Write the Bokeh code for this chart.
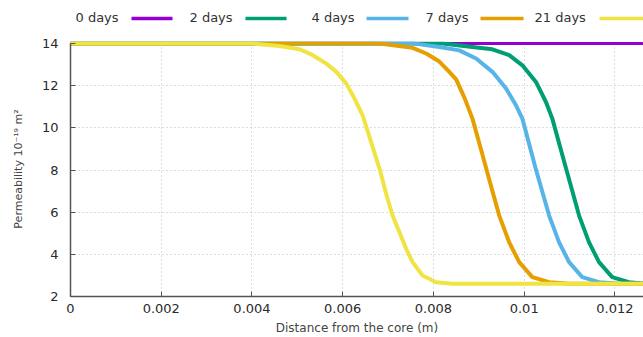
from bokeh.plotting import figure
from bokeh.models import Range1d, FixedTicker
from bokeh.layouts import column
from bokeh.core.properties import value
from bokeh.embed import file_html
from bokeh.resources import INLINE

# ---- data ----
series_names = ["0 days", "2 days", "4 days", "7 days", "21 days"]
series_colors = ["#9400d3", "#009e73", "#56b4e9", "#e69f00", "#f0e442"]

x_0d = [0.0, 0.0126]
y_0d = [14.0, 14.0]

x_2d = [0.0, 0.0082, 0.00886, 0.0093, 0.00967, 0.00996, 0.01026, 0.01048, 0.01062,
        0.01092, 0.01121, 0.01143, 0.01165, 0.01194, 0.01231, 0.0126]
y_2d = [14.0, 14.0, 13.84, 13.73, 13.45, 12.97, 12.18, 11.23, 10.44,
        8.1, 5.84, 4.57, 3.63, 2.92, 2.68, 2.62]

x_4d = [0.0, 0.0076, 0.00813, 0.00857, 0.00894, 0.0093, 0.0096, 0.00982, 0.00996,
        0.01025, 0.01055, 0.01077, 0.01099, 0.01128, 0.01165, 0.0121, 0.0126]
y_4d = [14.0, 14.0, 13.84, 13.68, 13.29, 12.66, 11.87, 11.07, 10.44,
        8.1, 5.84, 4.57, 3.63, 2.92, 2.68, 2.6, 2.6]

x_7d = [0.0, 0.0068, 0.00703, 0.00754, 0.00784, 0.00813, 0.00835, 0.0085, 0.00868,
        0.00886, 0.00905, 0.00918, 0.0093, 0.00945, 0.00967, 0.00989, 0.01018,
        0.01055, 0.0110, 0.0126]
y_7d = [14.0, 14.0, 13.95, 13.8, 13.53, 13.15, 12.66, 12.3, 11.45,
        10.44, 8.96, 7.94, 7.0, 5.84, 4.57, 3.63, 2.92,
        2.68, 2.6, 2.6]

x_21d = [0.0, 0.0040, 0.00461, 0.00505, 0.00534, 0.00564, 0.00586, 0.00608, 0.00626,
         0.00644, 0.00663, 0.00682, 0.00698, 0.0071, 0.00725, 0.0074, 0.00754,
         0.00776, 0.00806, 0.00842, 0.0090, 0.0126]
y_21d = [14.0, 14.0, 13.89, 13.73, 13.45, 13.05, 12.66, 12.10, 11.39,
         10.60, 9.3, 8.0, 6.7, 5.84, 5.05, 4.26, 3.63,
         3.0, 2.68, 2.6, 2.6, 2.6]

x_ticks = [0, 0.002, 0.004, 0.006, 0.008, 0.010, 0.012]
x_tick_labels = ["0", "0.002", "0.004", "0.006", "0.008", "0.01", "0.012"]
y_ticks = [2, 4, 6, 8, 10, 12, 14]

series_x = [x_0d, x_2d, x_4d, x_7d, x_21d]
series_y = [y_0d, y_2d, y_4d, y_7d, y_21d]

FONT = "DejaVu Sans"
W = 643
LEG_H = 30
FRAME_LEFT = 70
Y_PAD = 0.1          # small headroom so the lines at 14 are not clipped
PX_PER_UNIT = 21.08

# ---- legend strip (label first, then sample line), in pixel-like units ----
# (column layout aligns this strip's frame with the main plot's frame)
leg = figure(width=W, height=LEG_H, output_backend="svg", toolbar_location=None,
             x_range=Range1d(FRAME_LEFT, W), y_range=Range1d(LEG_H, 0),
             min_border_left=FRAME_LEFT, min_border_right=0,
             min_border_top=0, min_border_bottom=0)
leg.axis.visible = False
leg.grid.visible = False
leg.outline_line_color = None
leg.background_fill_color = "white"
leg.border_fill_color = "white"

legend_text_x = [75, 189, 311, 425, 534]
legend_line_x0 = [131, 245, 366, 480, 599]
legend_line_x1 = [172, 286, 408, 523, 643]
leg.text(x=legend_text_x, y=[17] * 5, text=series_names,
         text_font=value(FONT), text_font_size="13px", text_color="#333333",
         text_baseline="middle", text_align="left")
leg.segment(x0=legend_line_x0, y0=[18] * 5, x1=legend_line_x1, y1=[18] * 5,
            line_color=series_colors, line_width=3.5)

# ---- main plot ----
top_border = 43 - LEG_H - int(round(Y_PAD * PX_PER_UNIT))
p = figure(width=W, height=337 - LEG_H, output_backend="svg", toolbar_location=None,
           x_range=Range1d(0, 0.01263), y_range=Range1d(2, 14 + Y_PAD),
           min_border_left=FRAME_LEFT, min_border_right=0, min_border_top=top_border,
           min_border_bottom=41)
p.outline_line_color = None
p.background_fill_color = "white"
p.border_fill_color = "white"

for ax in (p.xaxis[0], p.yaxis[0]):
    ax.axis_line_color = "#555555"
    ax.axis_line_width = 1.5
    ax.major_tick_in = 5
    ax.major_tick_out = 0
    ax.minor_tick_line_color = None
    ax.major_tick_line_color = "#555555"
    ax.major_label_text_font = FONT
    ax.major_label_text_font_size = "13px"
    ax.major_label_text_color = "#2a2a2a"
    ax.axis_label_text_font = FONT
    ax.axis_label_text_font_style = "normal"
    ax.axis_label_text_color = "#444444"

p.xaxis.ticker = FixedTicker(ticks=x_ticks)
p.xaxis.major_label_overrides = {t: l for t, l in zip(x_ticks, x_tick_labels)}
p.xaxis.axis_label = "Distance from the core (m)"
p.xaxis.axis_label_text_font_size = "12px"
p.xaxis.major_label_standoff = 7
p.xaxis.axis_label_standoff = 5

p.yaxis.ticker = FixedTicker(ticks=y_ticks)
p.yaxis.bounds = (2, 14)
p.yaxis.axis_label = "Permeability 10\u207b\u00b9\u2079 m\u00b2"
p.yaxis.axis_label_text_font_size = "11px"
p.yaxis.major_label_standoff = 12
p.yaxis.axis_label_standoff = 14

for g in (p.xgrid[0], p.ygrid[0]):
    g.grid_line_color = "#bbbbbb"
    g.grid_line_dash = "1 3"
    g.grid_line_width = 1

for xs, ys, c, name in zip(series_x, series_y, series_colors, series_names):
    p.line(xs, ys, line_color=c, line_width=3 if name == "0 days" else 4,
           line_join="round", line_cap="round")

layout = column(leg, p, spacing=0)
open("out.html", "w").write(file_html(layout, INLINE))
